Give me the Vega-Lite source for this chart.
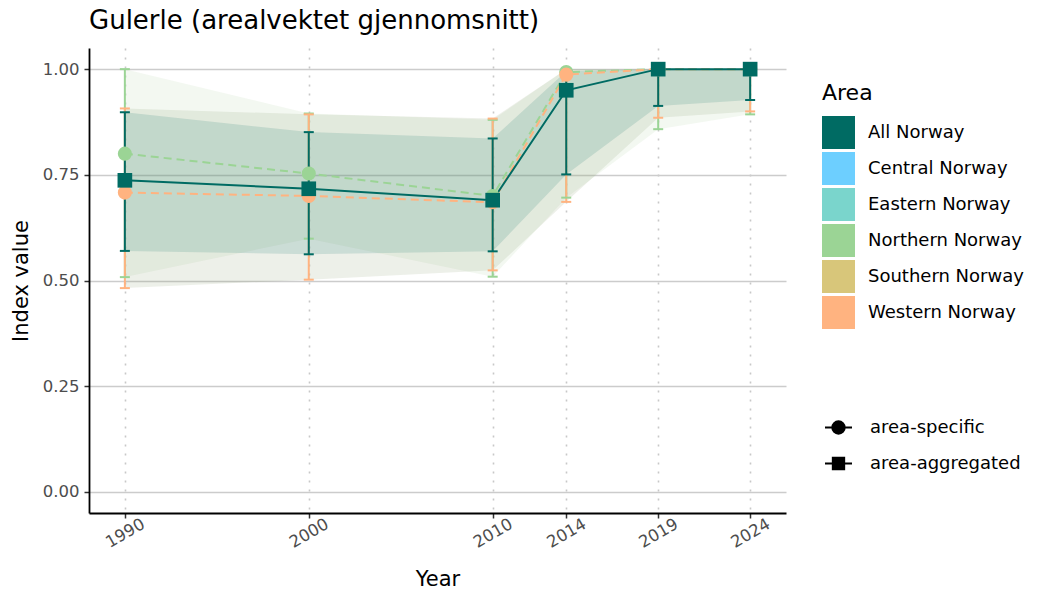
{
  "$schema": "https://vega.github.io/schema/vega-lite/v6.json",
  "width": 697,
  "height": 465,
  "autosize": "none",
  "padding": {"left": 89, "top": 48, "right": 264, "bottom": 87},
  "background": "white",
  "title": {"text": "Gulerle (arealvektet gjennomsnitt)", "anchor": "start", "frame": "group", "fontSize": 26, "fontWeight": "normal", "color": "black", "offset": 14},
  "config": {
    "font": "DejaVu Sans",
    "view": {"stroke": null},
    "axis": {"labelFontSize": 16.5, "labelColor": "#4D4D4D", "titleFontSize": 21, "titleFontWeight": "normal", "titleColor": "black", "domainColor": "black", "domainWidth": 1.8, "tickColor": "#333333", "tickSize": 5, "tickWidth": 1.5, "gridColor": "#CCCCCC", "gridWidth": 1.6}
  },
  "data": {"values": [
    {"Area": "Northern Norway", "type": "area-specific", "Year": 1990, "value": 0.800, "lower": 0.508, "upper": 1.000},
    {"Area": "Northern Norway", "type": "area-specific", "Year": 2000, "value": 0.753, "lower": 0.599, "upper": 0.895},
    {"Area": "Northern Norway", "type": "area-specific", "Year": 2010, "value": 0.700, "lower": 0.509, "upper": 0.880},
    {"Area": "Northern Norway", "type": "area-specific", "Year": 2014, "value": 0.993, "lower": 0.696, "upper": 1.000},
    {"Area": "Northern Norway", "type": "area-specific", "Year": 2019, "value": 1.000, "lower": 0.858, "upper": 1.000},
    {"Area": "Northern Norway", "type": "area-specific", "Year": 2024, "value": 1.000, "lower": 0.893, "upper": 1.000},
    {"Area": "Western Norway", "type": "area-specific", "Year": 1990, "value": 0.708, "lower": 0.482, "upper": 0.907},
    {"Area": "Western Norway", "type": "area-specific", "Year": 2000, "value": 0.700, "lower": 0.502, "upper": 0.893},
    {"Area": "Western Norway", "type": "area-specific", "Year": 2010, "value": 0.685, "lower": 0.524, "upper": 0.883},
    {"Area": "Western Norway", "type": "area-specific", "Year": 2014, "value": 0.987, "lower": 0.686, "upper": 1.000},
    {"Area": "Western Norway", "type": "area-specific", "Year": 2019, "value": 1.000, "lower": 0.885, "upper": 1.000},
    {"Area": "Western Norway", "type": "area-specific", "Year": 2024, "value": 1.000, "lower": 0.900, "upper": 1.000},
    {"Area": "All Norway", "type": "area-aggregated", "Year": 1990, "value": 0.737, "lower": 0.570, "upper": 0.898},
    {"Area": "All Norway", "type": "area-aggregated", "Year": 2000, "value": 0.717, "lower": 0.562, "upper": 0.851},
    {"Area": "All Norway", "type": "area-aggregated", "Year": 2010, "value": 0.690, "lower": 0.569, "upper": 0.836},
    {"Area": "All Norway", "type": "area-aggregated", "Year": 2014, "value": 0.950, "lower": 0.751, "upper": 0.995},
    {"Area": "All Norway", "type": "area-aggregated", "Year": 2019, "value": 1.000, "lower": 0.913, "upper": 1.000},
    {"Area": "All Norway", "type": "area-aggregated", "Year": 2024, "value": 1.000, "lower": 0.927, "upper": 1.000}
  ]},
  "encoding": {
    "x": {"field": "Year", "type": "quantitative", "scale": {"domain": [1988.05, 2025.95], "nice": false, "zero": false},
      "axis": {"values": [1990, 2000, 2010, 2014, 2019, 2024], "format": "d", "labelAngle": -30, "labelAlign": "center", "labelBaseline": "middle", "labelPadding": 15, "gridDash": [2, 7], "gridColor": "#C8C8C8", "title": "Year", "titlePadding": 18}}
  },
  "layer": [
    {
      "transform": [{"filter": "datum.type == 'area-specific'"}],
      "mark": {"type": "area", "opacity": 0.14},
      "encoding": {
        "y": {"field": "lower", "type": "quantitative", "scale": {"domain": [-0.05, 1.05], "nice": false, "zero": false},
          "axis": {"values": [0, 0.25, 0.5, 0.75, 1], "format": ".2f", "title": "Index value", "titlePadding": 11, "labelPadding": 5}},
        "y2": {"field": "upper"},
        "fill": {"field": "Area", "type": "nominal", "scale": {"domain": ["All Norway", "Northern Norway", "Western Norway"], "range": ["#006B63", "#A9CD9B", "#819462"]}, "legend": null}
      }
    },
    {
      "transform": [{"filter": "datum.type == 'area-aggregated'"}],
      "mark": {"type": "area", "opacity": 0.14},
      "encoding": {
        "y": {"field": "lower", "type": "quantitative"},
        "y2": {"field": "upper"},
        "fill": {"field": "Area", "type": "nominal", "legend": null}
      }
    },
    {
      "transform": [{"filter": "datum.type == 'area-specific'"}],
      "mark": {"type": "rule", "strokeWidth": 2, "opacity": 1},
      "encoding": {
        "y": {"field": "lower", "type": "quantitative", "title": "Index value"},
        "y2": {"field": "upper"},
        "color": {"field": "Area", "type": "nominal"}
      }
    },
    {
      "transform": [{"filter": "datum.type == 'area-specific'"}, {"fold": ["lower", "upper"], "as": ["bound", "bval"]}],
      "mark": {"type": "tick", "orient": "horizontal", "size": 10, "thickness": 2, "opacity": 1},
      "encoding": {
        "y": {"field": "bval", "type": "quantitative", "title": "Index value"},
        "color": {"field": "Area", "type": "nominal"}
      }
    },
    {
      "transform": [{"filter": "datum.type == 'area-aggregated'"}],
      "mark": {"type": "rule", "strokeWidth": 2, "opacity": 1},
      "encoding": {
        "y": {"field": "lower", "type": "quantitative", "title": "Index value"},
        "y2": {"field": "upper"},
        "color": {"field": "Area", "type": "nominal"}
      }
    },
    {
      "transform": [{"filter": "datum.type == 'area-aggregated'"}, {"fold": ["lower", "upper"], "as": ["bound", "bval"]}],
      "mark": {"type": "tick", "orient": "horizontal", "size": 10, "thickness": 2, "opacity": 1},
      "encoding": {
        "y": {"field": "bval", "type": "quantitative", "title": "Index value"},
        "color": {"field": "Area", "type": "nominal"}
      }
    },
    {
      "transform": [{"filter": "datum.type == 'area-specific'"}],
      "mark": {"type": "line", "strokeWidth": 2, "strokeDash": [8, 5], "opacity": 1},
      "encoding": {
        "y": {"field": "value", "type": "quantitative"},
        "color": {"field": "Area", "type": "nominal"}
      }
    },
    {
      "transform": [{"filter": "datum.type == 'area-aggregated'"}],
      "mark": {"type": "line", "strokeWidth": 2, "opacity": 1},
      "encoding": {
        "y": {"field": "value", "type": "quantitative"},
        "color": {"field": "Area", "type": "nominal"}
      }
    },
    {
      "transform": [{"filter": "datum.type == 'area-specific'"}],
      "mark": {"type": "point", "shape": "circle", "filled": true, "opacity": 1, "size": 200, "strokeWidth": 0},
      "encoding": {
        "y": {"field": "value", "type": "quantitative"},
        "color": {"field": "Area", "type": "nominal"}
      }
    },
    {
      "transform": [{"filter": "datum.type == 'area-aggregated'"}],
      "mark": {"type": "point", "shape": "square", "filled": true, "opacity": 1, "size": 215, "strokeWidth": 0},
      "encoding": {
        "y": {"field": "value", "type": "quantitative"},
        "color": {"field": "Area", "type": "nominal",
          "scale": {"domain": ["All Norway", "Central Norway", "Eastern Norway", "Northern Norway", "Southern Norway", "Western Norway"], "range": ["#006B63", "#6DCFFF", "#7AD5CC", "#9BD495", "#D8C67A", "#FFB380"]},
          "legend": {"title": "Area", "orient": "none", "legendX": 733, "legendY": 35, "titleFontSize": 22, "titleFontWeight": "normal", "titleColor": "black", "titlePadding": 11, "labelFontSize": 18, "labelColor": "black", "labelOffset": 13, "symbolType": "square", "symbolSize": 1089, "rowPadding": 3, "symbolStrokeWidth": 0, "symbolOpacity": 1}}
      }
    },
    {
      "transform": [{"filter": "false"}],
      "mark": {"type": "point", "filled": true, "fill": "black", "stroke": "black", "strokeWidth": 2},
      "encoding": {
        "y": {"field": "value", "type": "quantitative"},
        "shape": {"field": "type", "type": "nominal",
          "scale": {"domain": ["area-specific", "area-aggregated"], "range": ["M-1,0H1M-0.46,0A0.46,0.46,0,1,0,0.46,0A0.46,0.46,0,1,0,-0.46,0Z", "M-1,0H1M-0.42,-0.42H0.42V0.42H-0.42Z"]},
          "legend": {"title": null, "orient": "none", "legendX": 735, "legendY": 365, "labelFontSize": 18, "labelColor": "black", "labelOffset": 17, "symbolSize": 729, "rowPadding": 11, "symbolStrokeWidth": 2, "symbolOpacity": 1}}
      }
    }
  ]
}
